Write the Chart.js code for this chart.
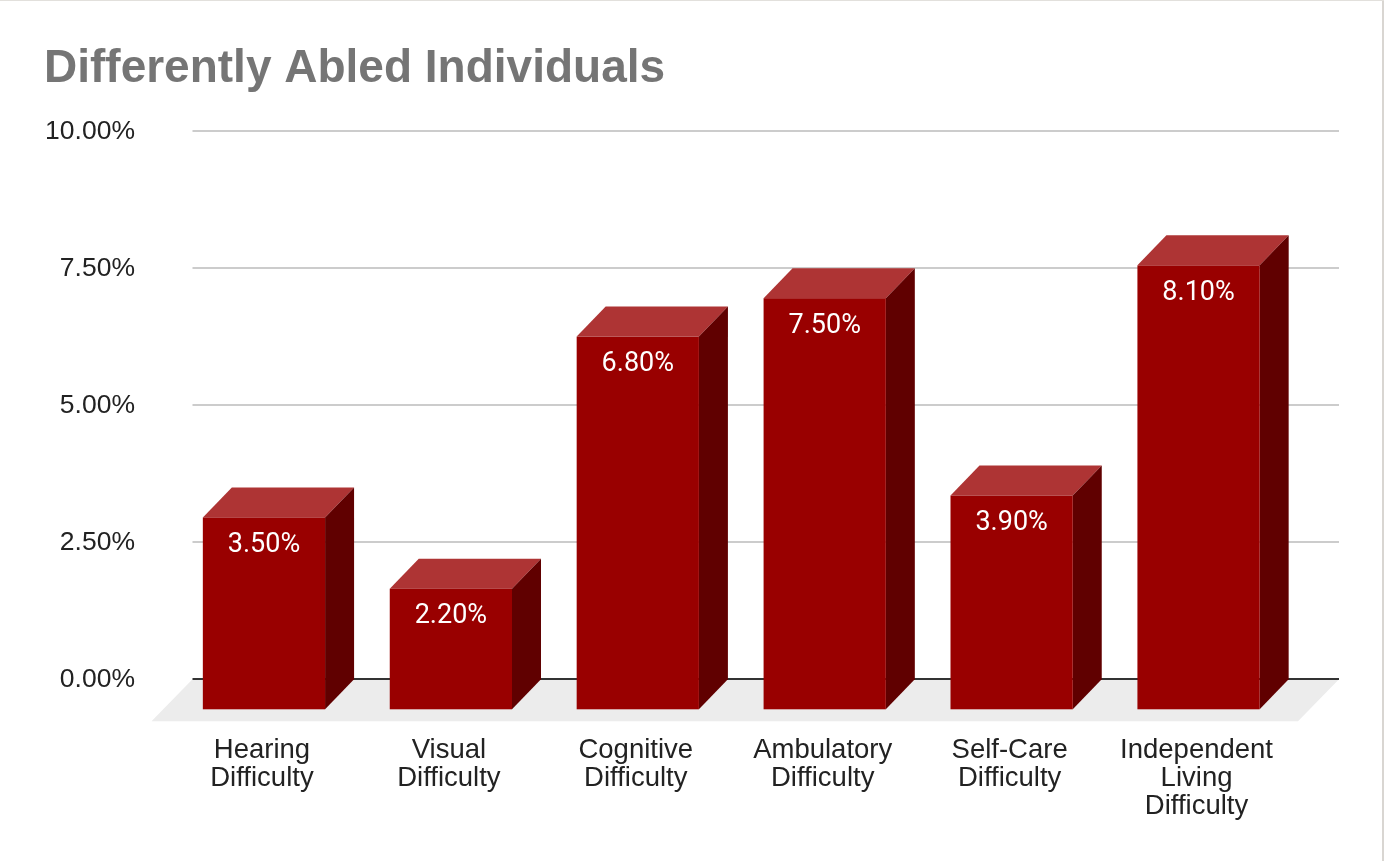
<!DOCTYPE html>
<html>
<head>
<meta charset="utf-8">
<script src="https://cdn.jsdelivr.net/npm/chart.js@4.4.1/dist/chart.umd.min.js"></script>
<style>
  html, body { margin: 0; padding: 0; background: #ffffff; }
  #wrap {
    position: relative;
    width: 1384px;
    height: 861px;
    box-shadow: inset 0 1px 0 #e2e0dc, inset -2px 0 0 #d9d6d2;
  }
  canvas { position: absolute; left: 0; top: 0; }
</style>
</head>
<body>
<div id="wrap"><canvas id="chart" width="1384" height="861"></canvas></div>
<script>
// Parts de la population par type de handicap (%)
const categories = [
  ['Hearing', 'Difficulty'],
  ['Visual', 'Difficulty'],
  ['Cognitive', 'Difficulty'],
  ['Ambulatory', 'Difficulty'],
  ['Self-Care', 'Difficulty'],
  ['Independent', 'Living', 'Difficulty']
];
const shares = [3.5, 2.2, 6.8, 7.5, 3.9, 8.1];
const yTicks = [0, 2.5, 5, 7.5, 10];

// Profondeur de l'effet 3D
const DEPTH_X = 29;
const DEPTH_Y = 30;
const FLOOR_X = 41;
const FLOOR_Y = 42;

const fmt = v => v.toFixed(2) + '%';

// Sol, grille et ligne du zéro dessinés sous les barres
const wallPlugin = {
  id: 'wall',
  beforeDatasetsDraw(chart) {
    const { ctx, chartArea, scales } = chart;
    const left = chartArea.left - 7;
    const right = chartArea.right + 18;
    const zeroY = scales.y.getPixelForValue(0);

    ctx.save();
    ctx.fillStyle = '#ececec';
    ctx.beginPath();
    ctx.moveTo(left, zeroY);
    ctx.lineTo(right, zeroY);
    ctx.lineTo(right - FLOOR_X, zeroY + FLOOR_Y);
    ctx.lineTo(left - FLOOR_X, zeroY + FLOOR_Y);
    ctx.closePath();
    ctx.fill();

    ctx.lineWidth = 2;
    yTicks.forEach(v => {
      const y = Math.round(scales.y.getPixelForValue(v));
      ctx.strokeStyle = v === 0 ? '#333333' : '#cccccc';
      ctx.beginPath();
      ctx.moveTo(left, y);
      ctx.lineTo(right, y);
      ctx.stroke();
    });
    ctx.restore();
  }
};

// Barres en relief + étiquettes de valeur
const boxPlugin = {
  id: 'box3d',
  afterDatasetsDraw(chart) {
    const { ctx } = chart;
    const meta = chart.getDatasetMeta(0);
    ctx.save();
    meta.data.forEach((bar, i) => {
      const { x, y, base, width } = bar.getProps(['x', 'y', 'base', 'width'], true);
      const bl = x - width / 2, br = x + width / 2;
      const fl = bl - DEPTH_X, fr = br - DEPTH_X;
      const ft = y + DEPTH_Y, fb = base + DEPTH_Y;

      // face de dessus
      ctx.fillStyle = '#ae3434';
      ctx.beginPath();
      ctx.moveTo(fl, ft);
      ctx.lineTo(bl, y);
      ctx.lineTo(br, y);
      ctx.lineTo(fr, ft);
      ctx.closePath();
      ctx.fill();

      // face de côté
      ctx.fillStyle = '#600000';
      ctx.beginPath();
      ctx.moveTo(fr, ft);
      ctx.lineTo(br, y);
      ctx.lineTo(br, base);
      ctx.lineTo(fr, fb);
      ctx.closePath();
      ctx.fill();

      // face avant
      ctx.fillStyle = '#990000';
      ctx.fillRect(fl, ft, width, fb - ft);

      ctx.fillStyle = '#ffffff';
      ctx.font = "27px Roboto, 'Noto Sans', sans-serif";
      ctx.textAlign = 'center';
      ctx.textBaseline = 'middle';
      ctx.fillText(fmt(shares[i]), x - DEPTH_X, ft + 28);
    });
    ctx.restore();
  }
};

const ctx = document.getElementById('chart').getContext('2d');

new Chart(ctx, {
  type: 'bar',
  data: {
    labels: categories,
    datasets: [{
      label: 'Share',
      data: shares,
      backgroundColor: 'rgba(0,0,0,0)',
      borderWidth: 0,
      barPercentage: 0.654,
      categoryPercentage: 1
    }]
  },
  options: {
    responsive: false,
    animation: false,
    events: [],
    layout: { padding: { left: 44, right: 63, top: 0, bottom: 0 } },
    plugins: {
      legend: { display: false },
      tooltip: { enabled: false },
      title: {
        display: true,
        text: 'Differently Abled Individuals',
        align: 'start',
        color: '#757575',
        font: { family: "'Liberation Sans', Arial, sans-serif", size: 46, weight: 'bold', lineHeight: 1.2 },
        padding: { top: 42, bottom: 34 }
      }
    },
    scales: {
      x: {
        grid: { display: false },
        border: { display: false },
        ticks: {
          color: '#222222',
          labelOffset: -DEPTH_X - 2,
          padding: 49,
          maxRotation: 0,
          autoSkip: false,
          font: { family: "'Liberation Sans', Arial, sans-serif", size: 27.5, lineHeight: 1.02 }
        },
        afterFit(scale) { scale.height = 861 - 679.3; }
      },
      y: {
        min: 0,
        max: 10,
        grid: { display: false },
        border: { display: false },
        afterBuildTicks(scale) { scale.ticks = yTicks.map(v => ({ value: v })); },
        ticks: {
          color: '#222222',
          padding: 56.5,
          font: { family: "'Liberation Sans', Arial, sans-serif", size: 26.5 },
          callback: v => fmt(v)
        },
        afterFit(scale) { scale.width = 155.5; }
      }
    }
  },
  plugins: [wallPlugin, boxPlugin]
});
</script>
</body>
</html>
